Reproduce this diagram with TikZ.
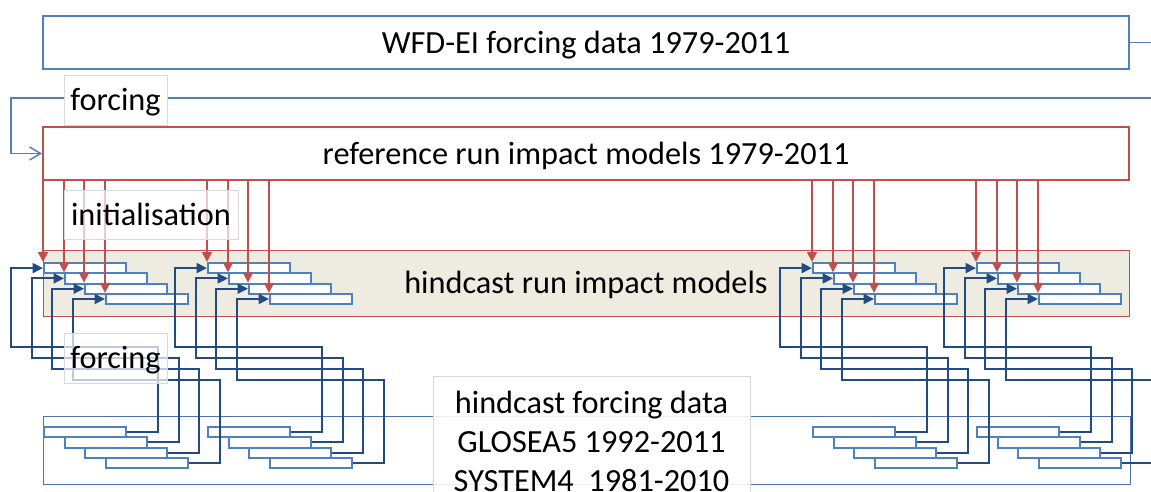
\documentclass[tikz,border=0pt]{standalone}
\usepackage{fontspec}
\setmainfont{Carlito}
\usetikzlibrary{arrows.meta}

\definecolor{wfdblue}{HTML}{4F81BD}
\definecolor{barblue}{HTML}{4F81BD}
\definecolor{feednavy}{HTML}{234B82}
\definecolor{runred}{HTML}{C0504D}
\definecolor{hindbeige}{HTML}{EEECE1}
\definecolor{labelgray}{HTML}{D9D9D9}
\definecolor{thinblue}{HTML}{4F73A8}

\begin{document}
\begin{tikzpicture}[x=1pt,y=-1pt,
  every node/.style={font=\fontsize{32.3}{39}\selectfont, inner sep=0pt,
    text height=21pt, text depth=0pt},
  runbox/.style={draw, line width=1.9pt, fill=white,
    minimum width=1086pt, minimum height=53pt},
  hindbox/.style={draw=runred, line width=0.9pt, fill=hindbeige,
    minimum width=1086pt, minimum height=66pt},
  labelbox/.style={draw=labelgray, line width=0.8pt, fill=white,
    fill opacity=0.7, text opacity=1},
  barbox/.style={draw=barblue, line width=1.9pt, fill=white, anchor=north west,
    minimum width=82pt, minimum height=10.3pt, text height=0pt, text depth=0pt},
  forcingline/.style={draw=wfdblue, line width=1.5pt},
  initarrow/.style={draw=runred, line width=1.8pt,
    -{Triangle[length=10pt,width=10pt]}},
  feedline/.style={draw=feednavy, line width=2.1pt,
    -{Triangle[length=10.5pt,width=10pt]}},
  textline/.style={anchor=base, text height=, text depth=}
]
\useasboundingbox (0,0) rectangle (1151,491);

% observed forcing and the reference run
\node[runbox, draw=wfdblue] (wfd) at (586,42.5) {WFD-EI forcing data 1979-2011};
\coordinate (wfdout) at (1160,42.5);
\draw[forcingline] (wfd.east) -- (wfdout);

\node[runbox, draw=runred] (ref) at (586,153.5) {reference run impact models 1979-2011};
\coordinate (forcin) at (1160,98);
\draw[forcingline, -{Straight Barb[length=11pt,width=13pt]}]
  (forcin) -- (11,98) |- (ref.west);
\node[labelbox, fill opacity=1, minimum width=103pt, minimum height=50pt]
  (forcing1) at (115.5,100) {forcing};

% hindcast runs
\node[hindbox] (hind) at (586,283) {hindcast run impact models};

% hindcast forcing ensemble frame
\node[draw=thinblue, line width=0.9pt, minimum width=1087pt, minimum height=68pt,
  text height=0pt, text depth=0pt] (hfframe) at (586.5,450) {};

% upper (runs) and lower (forcing) bars, four groups of four members
\foreach \g/\bx in {1/43,2/207,3/812,4/976}{
  \foreach \i/\dx in {1/0,2/21,3/41,4/62}{
    \pgfmathsetmacro\xx{\bx+\dx}
    \pgfmathsetmacro\yu{262+10.3*(\i-1)}
    \pgfmathsetmacro\yl{426+10.3*(\i-1)}
    \node[barbox] (u\g\i) at (\xx,\yu) {};
    \node[barbox] (l\g\i) at (\xx,\yl) {};
  }
}

% initialisation from the reference run
\foreach \g in {1,2,3,4}{
  \foreach \i in {1,2,3,4}{
    \draw[initarrow] (ref.south -| u\g\i.north west) -- (u\g\i.north west);
  }
}

% forcing from the hindcast data to each member
\foreach \g/\bx in {1/43,2/207,3/812,4/976}{
  \foreach \i/\dx in {1/0,2/21,3/41,4/62}{
    \pgfmathsetmacro\xr{\bx+\dx+82+33}
    \pgfmathsetmacro\yh{347+11*(\i-1)}
    \draw[feedline] (l\g\i.east) -| (\xr,\yh) -| ([xshift=-32pt]u\g\i.west) -- (u\g\i.west);
  }
}

% labels
\node[labelbox, minimum width=174pt, minimum height=49pt]
  (initlabel) at (151,214.5) {initialisation};
\node[labelbox, minimum width=103pt, minimum height=50pt]
  (forcing2) at (115.5,358) {forcing};
\node[labelbox, fill opacity=0.9, minimum width=317pt, minimum height=144pt,
  text height=0pt, text depth=0pt] (hflabel) at (591.5,448) {};
\node[textline] (hf1) at (591.5,413) {hindcast forcing data};
\node[textline] (hf2) at (591.5,452) {GLOSEA5 1992-2011};
\node[textline] (hf3) at (591.5,491) {SYSTEM4~~1981-2010};
\end{tikzpicture}
\end{document}
